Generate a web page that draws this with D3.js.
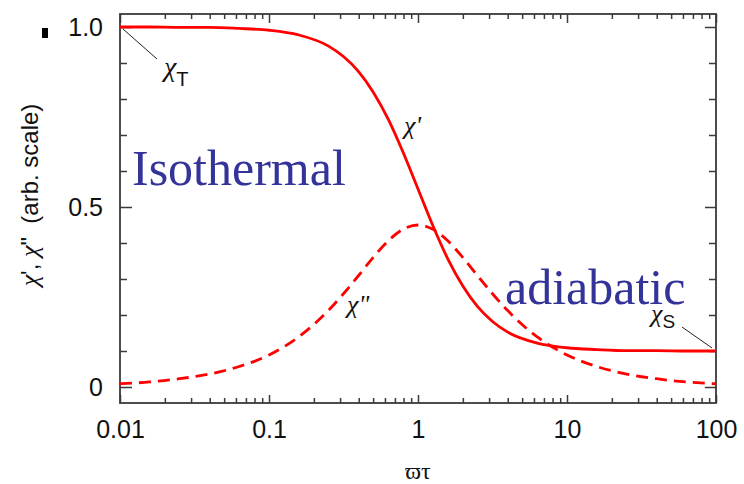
<!DOCTYPE html>
<html>
<head>
<meta charset="utf-8">
<script src="https://cdn.jsdelivr.net/npm/d3@7"></script>
<style>
  html, body { margin: 0; padding: 0; background: #fff; }
  svg { display: block; }
  text { white-space: pre; }
</style>
</head>
<body>
<svg id="chart" width="744" height="484"></svg>
<script>
// ---- data ----
const omegaTau = [0.01, 0.0158, 0.0251, 0.0398, 0.0631, 0.1, 0.158, 0.251, 0.316, 0.398, 0.501, 0.631, 0.794, 1,
                  1.259, 1.585, 1.995, 2.512, 3.162, 3.981, 6.31, 10, 15.85, 25.12, 39.81, 63.1, 100];
const chiReal  = [1.000, 1.000, 0.999, 0.999, 0.996, 0.991, 0.978, 0.947, 0.918, 0.877, 0.819, 0.744, 0.652, 0.550,
                  0.448, 0.356, 0.281, 0.223, 0.182, 0.153, 0.122, 0.109, 0.104, 0.101, 0.101, 0.100, 0.100];
const chiImag  = [0.009, 0.014, 0.023, 0.036, 0.057, 0.089, 0.139, 0.213, 0.259, 0.309, 0.360, 0.406, 0.438, 0.450,
                  0.438, 0.406, 0.360, 0.309, 0.259, 0.213, 0.139, 0.089, 0.057, 0.036, 0.023, 0.014, 0.009];
const xMajorTicks = [0.01, 0.1, 1, 10, 100];
const xTickLabels = ["0.01", "0.1", "1", "10", "100"];
const yMajorTicks = [0, 0.5, 1.0];
const yTickLabels = ["0", "0.5", "1.0"];
const yMinorTicks = [0.1, 0.2, 0.3, 0.4, 0.6, 0.7, 0.8, 0.9];
const chiT = 1.0, chiS = 0.1;

// ---- layout ----
const svg = d3.select("#chart");
const L = 120, R = 716, T = 14, B = 403;
const x = d3.scaleLog().domain([0.01, 100]).range([L, R]);
const y = d3.scaleLinear().domain([0, 1]).range([387, 27]);
const axisColor = "#3a3a3a";
const serif = "Liberation Serif, Times New Roman, serif";
const sans = "Liberation Sans, Arial, sans-serif";

const xMinorTicks = [];
for (let d = 0; d < xMajorTicks.length - 1; d++)
  for (let m = 2; m <= 9; m++) xMinorTicks.push(xMajorTicks[d] * m);

function styleAxis(g) {
  g.select(".domain").remove();
  g.selectAll("line").attr("stroke", axisColor).attr("stroke-width", 1.5);
  g.selectAll("text").attr("font-family", sans).attr("font-size", 25).attr("fill", "#111");
}

// bottom axis
svg.append("g").attr("transform", `translate(0,${B})`)
  .call(d3.axisBottom(x).tickValues(xMajorTicks).tickSize(-8).tickPadding(17)
        .tickFormat((d, i) => xTickLabels[i]))
  .call(styleAxis);
svg.append("g").attr("transform", `translate(0,${B})`)
  .call(d3.axisBottom(x).tickValues(xMinorTicks).tickSize(-5).tickFormat(""))
  .call(styleAxis);
// top axis
svg.append("g").attr("transform", `translate(0,${T})`)
  .call(d3.axisTop(x).tickValues(xMajorTicks).tickSize(-9).tickFormat(""))
  .call(styleAxis);
svg.append("g").attr("transform", `translate(0,${T})`)
  .call(d3.axisTop(x).tickValues(xMinorTicks).tickSize(-5).tickFormat(""))
  .call(styleAxis);
// left axis
svg.append("g").attr("transform", `translate(${L},0)`)
  .call(d3.axisLeft(y).tickValues(yMajorTicks).tickSize(-12).tickPadding(17)
        .tickFormat((d, i) => yTickLabels[i]))
  .call(styleAxis);
svg.append("g").attr("transform", `translate(${L},0)`)
  .call(d3.axisLeft(y).tickValues(yMinorTicks).tickSize(-7).tickFormat(""))
  .call(styleAxis);
// right axis
svg.append("g").attr("transform", `translate(${R},0)`)
  .call(d3.axisRight(y).tickValues(yMajorTicks).tickSize(-11).tickFormat(""))
  .call(styleAxis);
svg.append("g").attr("transform", `translate(${R},0)`)
  .call(d3.axisRight(y).tickValues(yMinorTicks).tickSize(-7).tickFormat(""))
  .call(styleAxis);

// frame
svg.append("rect").attr("x", L).attr("y", T).attr("width", R - L).attr("height", B - T)
  .attr("fill", "none").attr("stroke", axisColor).attr("stroke-width", 1.8);

// curves
const pts = (vals) => omegaTau.map((w, i) => [w, vals[i]]);
const line = d3.line().x(d => x(d[0])).y(d => y(d[1])).curve(d3.curveMonotoneX);
svg.append("path").attr("d", line(pts(chiReal)))
  .attr("fill", "none").attr("stroke", "#ff0000").attr("stroke-width", 2.8);
svg.append("path").attr("d", line(pts(chiImag)))
  .attr("fill", "none").attr("stroke", "#ff0000").attr("stroke-width", 2.8)
  .attr("stroke-dasharray", "12,7");

// small black mark left of 1.0
svg.append("rect").attr("x", 42).attr("y", 28).attr("width", 6).attr("height", 10).attr("fill", "#000");

// axis titles
svg.append("text").attr("x", 418).attr("y", 479).attr("text-anchor", "middle")
  .attr("font-family", serif).attr("font-size", 24)
  .attr("fill", "#111").text("ϖτ");
const yl = svg.append("text").attr("transform", "translate(38,195) rotate(-90)").attr("text-anchor", "middle")
  .attr("font-family", sans).attr("font-size", 24).attr("fill", "#111");
yl.append("tspan").attr("font-family", serif).attr("font-style", "italic").attr("font-size", 26).text("χ");
yl.append("tspan").text("', ");
yl.append("tspan").attr("font-family", serif).attr("font-style", "italic").attr("font-size", 26).text("χ");
yl.append("tspan").text("\"  (arb. scale)");

// regime labels
const blue = "#333399";
svg.append("text").attr("x", 132).attr("y", 185)
  .attr("font-family", serif).attr("font-size", 50)
  .attr("fill", blue).text("Isothermal");
svg.append("text").attr("x", 505).attr("y", 304)
  .attr("font-family", serif).attr("font-size", 50)
  .attr("fill", blue).text("adiabatic");

// curve annotations
svg.append("text").attr("x", 404).attr("y", 134).attr("font-family", serif).attr("font-size", 26)
  .attr("font-style", "italic").attr("fill", "#111").text("χ'");
svg.append("text").attr("x", 347).attr("y", 313).attr("font-family", serif).attr("font-size", 26)
  .attr("font-style", "italic").attr("fill", "#111").text("χ\"");

// chi_T
svg.append("line").attr("x1", x(0.01) + 3).attr("y1", y(chiT) + 2).attr("x2", 157).attr("y2", 59)
  .attr("stroke", "#222").attr("stroke-width", 1);
const tT = svg.append("text").attr("x", 164).attr("y", 76).attr("fill", "#111");
tT.append("tspan").attr("font-family", serif).attr("font-style", "italic").attr("font-size", 28).text("χ");
tT.append("tspan").attr("font-family", sans).attr("font-size", 20).attr("dy", 10).text("T");

// chi_S
svg.append("line").attr("x1", 682).attr("y1", 327).attr("x2", x(100) - 4).attr("y2", y(chiS) - 3)
  .attr("stroke", "#222").attr("stroke-width", 1);
const tS = svg.append("text").attr("x", 651).attr("y", 322).attr("fill", "#111");
tS.append("tspan").attr("font-family", serif).attr("font-size", 26).attr("font-style", "italic").text("χ");
tS.append("tspan").attr("font-family", sans).attr("font-size", 19).attr("dy", 6).text("S");
</script>
</body>
</html>
